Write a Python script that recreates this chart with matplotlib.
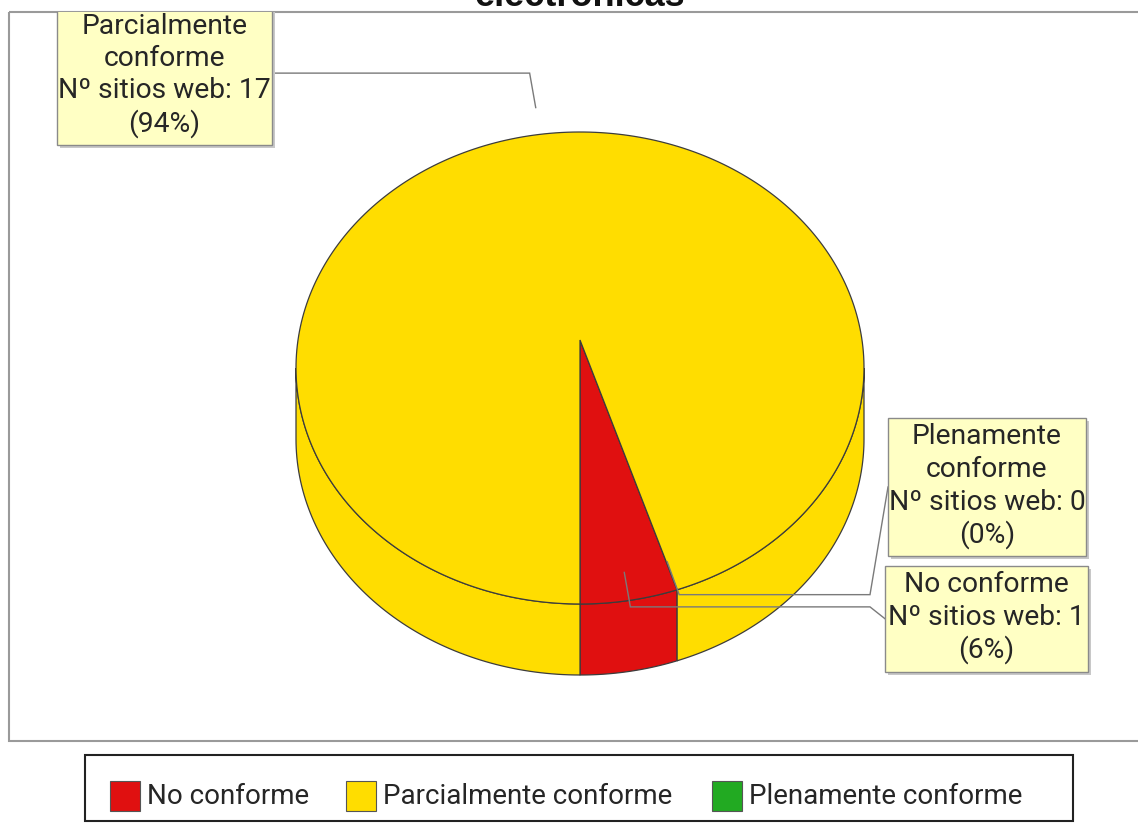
import textwrap
import numpy as np
import matplotlib
matplotlib.use("Agg")
from matplotlib import pyplot as plt
from matplotlib.patches import Polygon, Rectangle

# data
categories = ["No conforme", "Parcialmente conforme", "Plenamente conforme"]
counts = [1, 17, 0]
colors = ["#e01010", "#ffdd00", "#22aa22"]
title = "electrónicas"

W, H = 1138, 832
fig = plt.figure(figsize=(W / 100, H / 100), dpi=100)
ax = fig.add_axes([0, 0, 1, 1])
ax.set_xlim(0, W)
ax.set_ylim(H, 0)
ax.axis("off")

plt.rcParams["font.family"] = ["Roboto", "DejaVu Sans"]
txtcol = "#262626"
edge = "#3c3c3c"

# plot area frame (pixels)
plot_rect = Rectangle((9, 12), W + 20, 729, fill=False, ec="#9a9a9a", lw=1.5, zorder=1)
ax.add_patch(plot_rect)
clip_rect = Rectangle((9, 12), W + 20, 729, transform=ax.transData)

# title is cut by the top edge in the original too
ax.text(580, 6, title, ha="center", va="baseline", fontsize=26,
        fontweight="bold", family="Liberation Sans", color="#111111")

# pie geometry
cx, cy = 580, 368        # top face ellipse centre
a, b = 284, 236          # semi axes
depth = 71
apex = (580, 340)        # point where the slices meet
start, clockwise = 290.0, True


def top(t):
    t = np.radians(t)
    return np.column_stack([cx + a * np.cos(t), cy - b * np.sin(t)])


total = float(sum(counts))
angles = []
s = start
for v in counts:
    e = s - 360.0 * v / total if clockwise else s + 360.0 * v / total
    angles.append((min(s, e), max(s, e)))
    s = e

# side walls (front half only)
for (lo, hi), c, v in zip(angles, colors, counts):
    if v == 0:
        continue
    for k in range(-2, 2):
        f0, f1 = 180 + 360 * k, 360 + 360 * k
        l2, h2 = max(lo, f0), min(hi, f1)
        if h2 <= l2:
            continue
        tt = np.linspace(l2, h2, 80)
        up = top(tt)
        dn = up[::-1] + [0, depth]
        ax.add_patch(Polygon(np.vstack([up, dn]), closed=True, fc=c, ec=edge, lw=0.9, zorder=2))

# top faces
for (lo, hi), c, v in zip(angles, colors, counts):
    if v == 0:
        continue
    tt = np.linspace(lo, hi, 300)
    pts = np.vstack([[apex], top(tt)])
    ax.add_patch(Polygon(pts, closed=True, fc=c, ec=edge, lw=0.9, zorder=3))

# labels: box left, box top, box width, stub x (None = straight to box)
label_boxes = [(885, 566, 203, 870), (57, 7, 215, None), (888, 418, 198, 870)]
line_step = 32.5
link_col = "#7a7a7a"

for i, ((lo, hi), v, name) in enumerate(zip(angles, counts, categories)):
    mid = np.radians((lo + hi) / 2)
    ax0 = apex[0] + 255 * np.cos(mid)
    ay0 = apex[1] - 236 * np.sin(mid)
    ex = apex[0] + 290 * np.cos(mid)
    ey = apex[1] - 271 * np.sin(mid)
    bl, bt, bw, stub = label_boxes[i]
    lines = textwrap.wrap(name, 12) + [f"Nº sitios web: {v}", f"({round(100 * v / total)}%)"]
    bh = len(lines) * line_step + 8
    if stub is None:
        xs = [ax0, ex, bl + bw]
        ys = [ay0, ey, ey]
    else:
        xs = [ax0, ex, stub, bl]
        ys = [ay0, ey, ey, bt + bh / 2]
    ax.plot(xs, ys, color=link_col, lw=1.0, zorder=4, solid_joinstyle="miter")
    shadow = Rectangle((bl + 3, bt + 3), bw, bh, fc="#c8c8c8", ec="none", zorder=5)
    box = Rectangle((bl, bt), bw, bh, fc="#ffffc4", ec="#8a8a8a", lw=1.0, zorder=6)
    for p in (shadow, box):
        ax.add_patch(p)
        p.set_clip_path(clip_rect)
    for j, ln in enumerate(lines):
        ax.text(bl + bw / 2, bt + 19 + j * line_step, ln, ha="center", va="center",
                fontsize=20.3, color=txtcol, zorder=7)

# legend
ax.add_patch(Rectangle((85, 755), 988, 66, fill=False, ec="#222222", lw=1.5, zorder=1))
leg_x = [110, 346, 712]
for x, c, name in zip(leg_x, colors, categories):
    ax.add_patch(Rectangle((x, 781), 30, 30, fc=c, ec="#555555", lw=0.8, zorder=2))
    ax.text(x + 37, 797, name, ha="left", va="center", fontsize=20, color=txtcol)

fig.savefig("out.png", dpi=100)
